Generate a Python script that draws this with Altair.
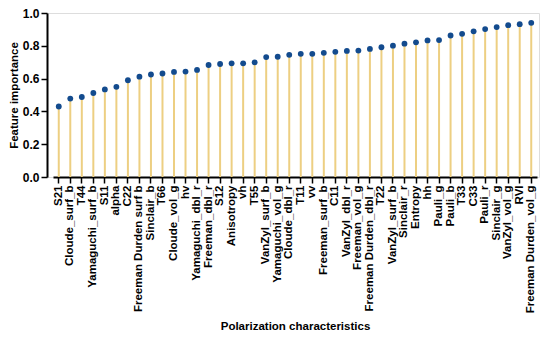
import altair as alt
import pandas as pd

features = ["S21", "Cloude_surf_b", "T44", "Yamaguchi_surf_b", "S11", "alpha", "C22",
            "Freeman Durden surf b", "Sinclair_b", "T66", "Cloude_vol_g", "hv",
            "Yamaguchi_dbl_r", "Freeman_dbl_r", "S12", "Anisotropy", "vh", "T55",
            "VanZyl_surf_b", "Yamaguchi_vol_g", "Cloude_dbl_r", "T11", "vv",
            "Freeman_surf_b", "C11", "VanZyl_dbl_r", "Freeman_vol_g",
            "Freeman Durden_dbl_r", "T22", "VanZyl_surf_b ", "Sinclair_r", "Entropy",
            "hh", "Pauli_g", "Pauli_b", "T33", "C33", "Pauli_r", "Sinclair_g",
            "VanZyl_vol_g", "RVI", "Freeman Durden_vol_g"]
importance = [0.430, 0.478, 0.488, 0.512, 0.534, 0.550, 0.590, 0.612, 0.625, 0.631,
              0.641, 0.643, 0.653, 0.683, 0.689, 0.693, 0.693, 0.699, 0.731, 0.733,
              0.745, 0.751, 0.751, 0.757, 0.763, 0.769, 0.771, 0.781, 0.791, 0.801,
              0.813, 0.821, 0.833, 0.835, 0.863, 0.873, 0.888, 0.902, 0.914, 0.926,
              0.932, 0.940]
y_ticks = [0.0, 0.2, 0.4, 0.6, 0.8, 1.0]

df = pd.DataFrame({"feature": features, "value": importance})

x = alt.X("feature:N", sort=None,
          scale=alt.Scale(range=[6, 490]),
          axis=alt.Axis(title="Polarization characteristics", labelAngle=-90,
                        labelFont="Liberation Sans", labelFontWeight="bold",
                        labelFontSize=11.5, labelColor="black", labelOverlap=False,
                        titleFont="Liberation Sans", titleFontWeight="bold",
                        titleFontSize=11.5, titleColor="black", titlePadding=8,
                        domainColor="black", domainWidth=2,
                        tickColor="black", tickWidth=1.5, tickSize=6,
                        labelPadding=2, grid=False))
y = alt.Y("value:Q", scale=alt.Scale(domain=[0, 1], nice=False),
          axis=alt.Axis(title="Feature importance", values=y_ticks,
                        format=".1f", labelFont="Liberation Sans", labelFontWeight="bold",
                        labelFontSize=12, labelColor="black", labelOverlap=False,
                        labelFlush=False,
                        titleFont="Liberation Sans", titleFontWeight="bold",
                        titleFontSize=11.5, titleColor="black", titlePadding=3,
                        domainColor="black", domainWidth=2,
                        tickColor="black", tickWidth=1.5, tickSize=6,
                        labelPadding=2, grid=False))

stems = alt.Chart(df).mark_rule(color="#EDCF82", strokeWidth=2).encode(
    x=x, y=y, y2=alt.datum(0))
dots = alt.Chart(df).mark_circle(color="#134B8E", size=34, opacity=1).encode(x=x, y=y)

chart = alt.layer(stems, dots).properties(
    width=492, height=164,
    autosize=alt.AutoSizeParams(type="none"),
    padding={"left": 39, "top": 5, "right": 3, "bottom": 154},
).configure_view(stroke="#333333", strokeWidth=1.2).configure(background="white")

chart.save("out.html", embed_options={"renderer": "svg", "actions": False})
